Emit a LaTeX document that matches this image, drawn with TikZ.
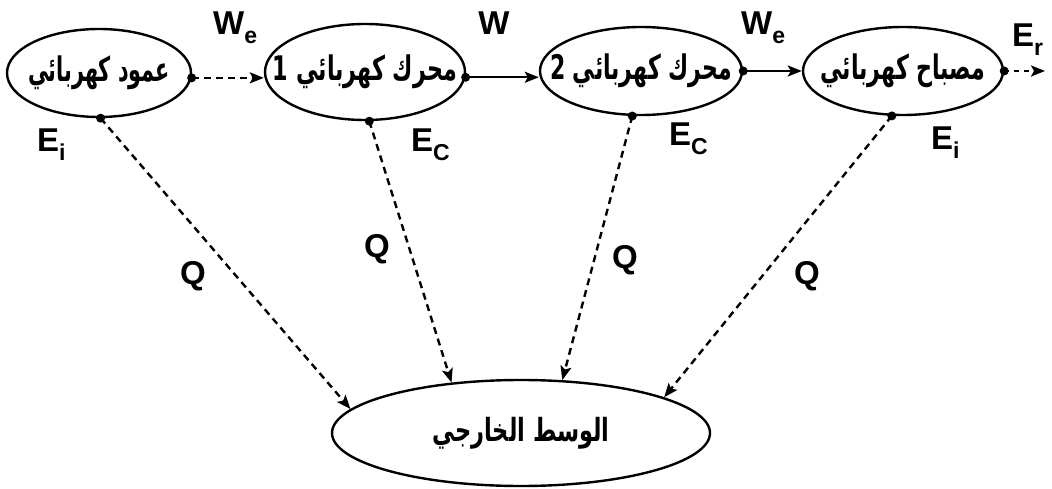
\documentclass[tikz,border=0pt]{standalone}
\usepackage{fontspec}
\usepackage{graphicx}
\setmainfont{Liberation Sans}
\newfontfamily\arabicfont[Script=Arabic]{DejaVu Sans}
\TeXXeTstate=1
\usetikzlibrary{shapes.geometric,arrows.meta}
\newcommand{\lbl}[2]{\fontsize{33}{33}\selectfont\bfseries #1\raisebox{-9pt}{\fontsize{23}{23}\selectfont #2}}
\newcommand{\artxt}[3]{\resizebox*{#1pt}{#2pt}{\arabicfont\bfseries\beginR #3\endR}}
\begin{document}
\begin{tikzpicture}[x=1pt,y=-1pt,
  proc/.style={ellipse,draw,line width=2.4pt,inner sep=0pt},
  intext/.style={inner sep=0pt},
  dasharrow/.style={line width=2.4pt,dash pattern=on 7pt off 5pt,-{Stealth[length=14pt,width=11pt,inset=3pt]}},
  solidarrow/.style={line width=2.4pt,-{Stealth[length=14pt,width=11pt,inset=3pt]}},
  lab/.style={inner sep=0pt,anchor=base west},
  dotmark/.style={fill=black}]
\useasboundingbox (0,0) rectangle (1052,489);
\node[proc,minimum width=184pt,minimum height=88pt,
  label={[intext,name=t1]center:\artxt{142}{34}{\beginR عمود كهربائي\endR}}] (E1) at (99,73) {};
\node[proc,minimum width=200pt,minimum height=96pt,
  label={[intext,name=t2]center:\artxt{184}{34}{\beginR محرك كهربائي 1\endR}}] (E2) at (365,72) {};
\node[proc,minimum width=202pt,minimum height=88pt,
  label={[intext,name=t3]center:\artxt{182}{34}{\beginR محرك كهربائي 2\endR}}] (E3) at (641,71) {};
\node[proc,minimum width=200pt,minimum height=88pt,
  label={[intext,name=t4]center:\artxt{165}{34}{\beginR مصباح كهربائي\endR}}] (E4) at (903,71) {};
\node[proc,minimum width=378pt,minimum height=106pt,
  label={[intext,name=t5]center:\artxt{177}{32}{\beginR الوسط الخارجي\endR}}] (B) at (521,433) {};
\coordinate (Eout) at (1045,71);
% top row
\draw[dasharrow] (E1.-3) -- (E1.-3 -| E2.west);
\draw[solidarrow] (E2.-3) -- (E2.-3 -| E3.west);
\draw[solidarrow] (E3.0) -- (E3.0 -| E4.west);
\draw[dasharrow,dash pattern=on 5pt off 5pt] (E4.0) -- (Eout);
% to environment
\draw[dasharrow] (E1.-88) -- (B.172.6);
\draw[dasharrow] (E2.-85) -- (B.144.8);
\draw[dasharrow] (E3.-101) -- (B.52);
\draw[dasharrow] (E4.-104) -- (B.14);
% dots
\foreach \p in {E1.-3,E2.-3,E3.0,E4.0,E1.-88,E2.-85,E3.-101,E4.-104}
  \fill[dotmark] (\p) circle[radius=4.5pt];
% labels
\node[lab] (lWe1) at (213,35) {\lbl{W}{e}};
\node[lab,anchor=base] (lW) at (494,35) {\lbl{W}{}};
\node[lab] (lWe2) at (741,35) {\lbl{W}{e}};
\node[lab] (lEr) at (1012,47) {\lbl{E}{r}};
\node[lab] (lEi1) at (37,152) {\lbl{E}{i}};
\node[lab] (lEc1) at (411,152) {\lbl{E}{C}};
\node[lab] (lEc2) at (669,146) {\lbl{E}{C}};
\node[lab] (lEi2) at (931,150) {\lbl{E}{i}};
\node[lab,anchor=base] (q1) at (193,284) {\lbl{Q}{}};
\node[lab,anchor=base] (q2) at (377,257) {\lbl{Q}{}};
\node[lab,anchor=base] (q3) at (625,269) {\lbl{Q}{}};
\node[lab,anchor=base] (q4) at (807,284) {\lbl{Q}{}};
\end{tikzpicture}
\end{document}
